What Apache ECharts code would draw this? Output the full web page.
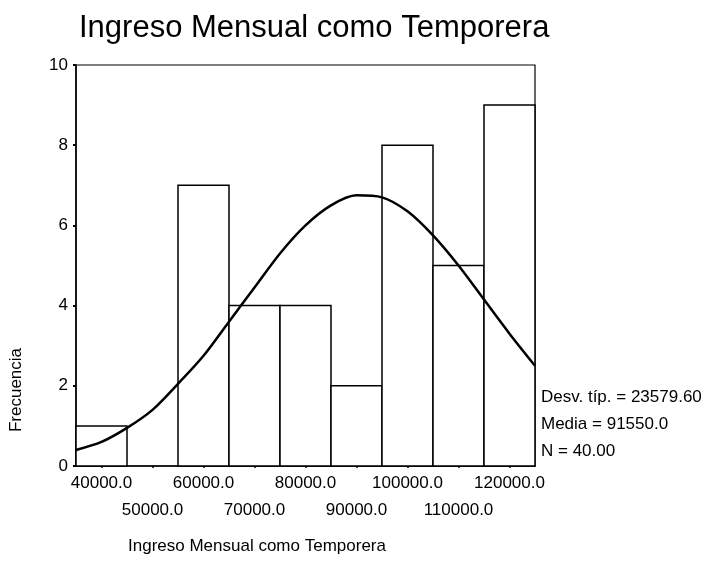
<!DOCTYPE html>
<html>
<head>
<meta charset="utf-8">
<script src="https://cdn.jsdelivr.net/npm/echarts@6/dist/echarts.min.js"></script>
<style>
  html, body { margin: 0; padding: 0; background: #fff; }
  #chart { width: 716px; height: 578px; }
</style>
</head>
<body>
<div id="chart"></div>
<script>
// bin centres and counts
var binCenters = [40000, 50000, 60000, 70000, 80000, 90000, 100000, 110000, 120000]
var counts = [1, 0, 7, 4, 4, 2, 8, 5, 9]
var xTickLabels = ['40000.0', '50000.0', '60000.0', '70000.0', '80000.0', '90000.0', '100000.0', '110000.0', '120000.0']

// normal curve, read at every 5000
var curveX = [35000, 40000, 45000, 50000, 55000, 60000, 65000, 70000, 75000, 80000, 85000, 90000, 95000, 100000, 105000, 110000, 115000, 120000, 125000]
var curveY = [0.4, 0.6, 0.95, 1.4, 2.05, 2.75, 3.6, 4.45, 5.3, 6.0, 6.5, 6.75, 6.7, 6.35, 5.75, 5.0, 4.15, 3.3, 2.5]

var statsLines = ['Desv. típ. = 23579.60', 'Media = 91550.0', 'N = 40.00']

var binWidth = 10000
var font = 'Liberation Sans, Arial, sans-serif'

// labels are staggered over two rows, like SPSS does
var upperRow = binCenters.filter(function (c, i) { return i % 2 === 0 })
var lowerRow = binCenters.filter(function (c, i) { return i % 2 === 1 })

function tickLabel (val) {
  return xTickLabels[binCenters.indexOf(val)]
}

var chart = echarts.init(document.getElementById('chart'))

chart.setOption({
  animation: false,
  backgroundColor: '#fff',
  title: {
    text: 'Ingreso Mensual como Temporera',
    left: 74,
    top: 8,
    textStyle: { fontFamily: font, fontSize: 31, fontWeight: 'normal', color: '#000' }
  },
  grid: {
    left: 76,
    right: 181,
    top: 65,
    bottom: 112,
    show: true,
    borderColor: '#000',
    borderWidth: 1.2,
    backgroundColor: 'transparent'
  },
  xAxis: [
    {
      type: 'value',
      position: 'bottom',
      min: 35000,
      max: 125000,
      splitLine: { show: false },
      axisLine: { lineStyle: { color: '#000', width: 1.5 } },
      axisTick: {
        customValues: binCenters,
        length: 2,
        lineStyle: { color: '#000', width: 1.5 }
      },
      axisLabel: {
        customValues: upperRow,
        showMinLabel: true,
        showMaxLabel: true,
        margin: 9,
        fontFamily: font,
        fontSize: 17,
        color: '#000',
        formatter: tickLabel
      }
    },
    {
      type: 'value',
      position: 'bottom',
      min: 35000,
      max: 125000,
      splitLine: { show: false },
      axisLine: { show: false },
      axisTick: { show: false },
      axisLabel: {
        customValues: lowerRow,
        showMinLabel: true,
        showMaxLabel: true,
        margin: 36,
        fontFamily: font,
        fontSize: 17,
        color: '#000',
        formatter: tickLabel
      }
    }
  ],
  yAxis: {
    type: 'value',
    min: 0,
    max: 10,
    interval: 2,
    splitLine: { show: false },
    axisLine: { show: true, lineStyle: { color: '#000', width: 1.5 } },
    axisTick: { show: true, length: 3, lineStyle: { color: '#000', width: 2 } },
    axisLabel: { margin: 8, fontFamily: font, fontSize: 17, color: '#000' }
  },
  graphic: [
    {
      type: 'text',
      left: 541,
      top: 384,
      style: {
        text: statsLines.join('\n'),
        lineHeight: 27,
        font: '17px ' + font,
        fill: '#000'
      }
    },
    {
      type: 'text',
      x: 16,
      y: 390,
      rotation: Math.PI / 2,
      style: {
        text: 'Frecuencia',
        font: '17px ' + font,
        fill: '#000',
        align: 'center',
        verticalAlign: 'middle'
      }
    },
    {
      type: 'text',
      left: 128,
      top: 538,
      style: {
        text: 'Ingreso Mensual como Temporera',
        font: '17px ' + font,
        fill: '#000'
      }
    }
  ],
  series: [
    {
      type: 'custom',
      xAxisIndex: 0,
      data: binCenters.map(function (c, i) { return [c, counts[i]] }),
      renderItem: function (params, api) {
        var c = api.value(0)
        var n = api.value(1)
        if (!n) return
        var p0 = api.coord([c - binWidth / 2, n])
        var p1 = api.coord([c + binWidth / 2, 0])
        return {
          type: 'rect',
          shape: { x: p0[0], y: p0[1], width: p1[0] - p0[0], height: p1[1] - p0[1] },
          style: { fill: '#fff', stroke: '#000', lineWidth: 1.5 }
        }
      },
      z: 2
    },
    {
      type: 'line',
      xAxisIndex: 0,
      data: curveX.map(function (x, i) { return [x, curveY[i]] }),
      smooth: 0.3,
      showSymbol: false,
      lineStyle: { color: '#000', width: 2.5 },
      z: 3
    }
  ]
})
</script>
</body>
</html>
